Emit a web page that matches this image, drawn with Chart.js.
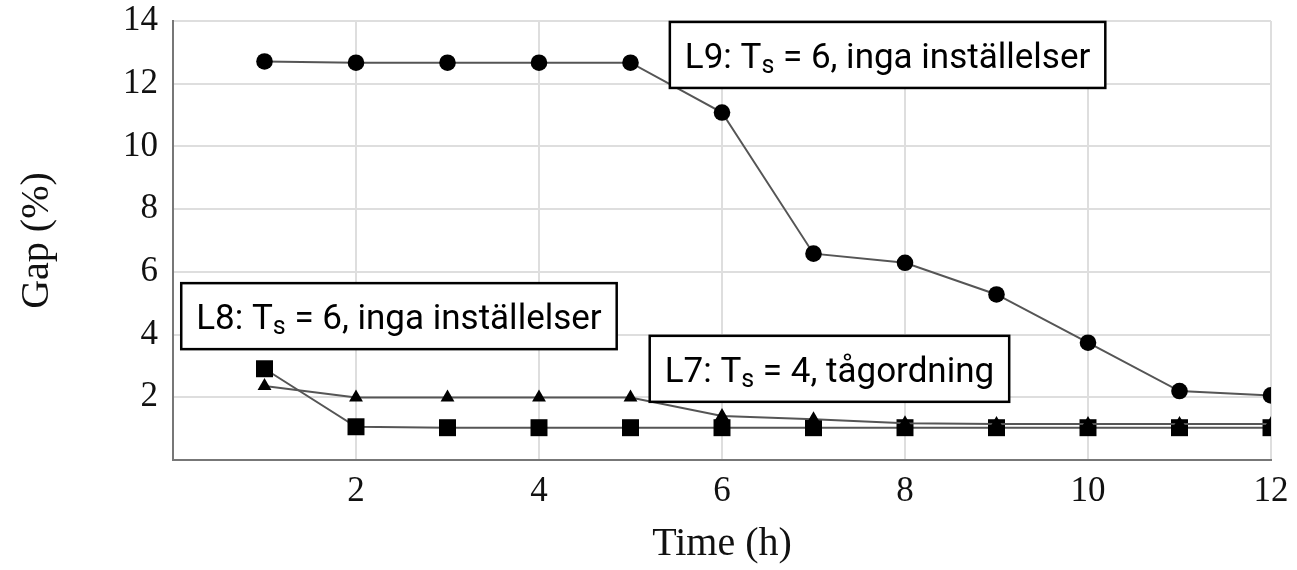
<!DOCTYPE html>
<html>
<head>
<meta charset="utf-8">
<script src="https://cdn.jsdelivr.net/npm/chart.js@4"></script>
<style>
  html, body { margin: 0; padding: 0; background: #fff; }
  #wrap { width: 1297px; height: 570px; }
</style>
</head>
<body>
<div id="wrap"><canvas id="c" width="1297" height="570"></canvas></div>
<script>
// ---- data ----
const hours = [1, 2, 3, 4, 5, 6, 7, 8, 9, 10, 11, 12];
const gapL9 = [12.71, 12.67, 12.67, 12.67, 12.67, 11.08, 6.58, 6.29, 5.28, 3.74, 2.20, 2.06];
const gapL7 = [2.36, 1.99, 1.99, 1.99, 1.99, 1.40, 1.30, 1.17, 1.15, 1.15, 1.15, 1.15];
const gapL8 = [2.91, 1.06, 1.03, 1.03, 1.03, 1.03, 1.03, 1.03, 1.03, 1.03, 1.03, 1.03];
const xTicks = [2, 4, 6, 8, 10, 12];
const yTicks = [2, 4, 6, 8, 10, 12, 14];
const labelL9 = ['L9: T', 's', ' = 6, inga inställelser'];
const labelL8 = ['L8: T', 's', ' = 6, inga inställelser'];
const labelL7 = ['L7: T', 's', ' = 4, tågordning'];

const toPts = (ys) => hours.map((h, i) => ({ x: h, y: ys[i] }));

const LINE = '#555555';
const serif = '"Liberation Serif", "DejaVu Serif", serif';

const boxPlugin = {
  id: 'textBoxes',
  afterDatasetsDraw(chart, args, opts) {
    const ctx = chart.ctx;
    const xs = chart.scales.x, ys = chart.scales.y;
    const fs = opts.fontSize, sfs = opts.subSize;
    opts.boxes.forEach(b => {
      const left = xs.getPixelForValue(b.x);
      const top = ys.getPixelForValue(b.y);
      ctx.save();
      ctx.font = fs + 'px ' + opts.family;
      const w1 = ctx.measureText(b.parts[0]).width;
      const w3 = ctx.measureText(b.parts[2]).width;
      ctx.font = sfs + 'px ' + opts.family;
      const w2 = ctx.measureText(b.parts[1]).width;
      const tw = w1 + w2 + w3;
      const bw = tw + opts.padX * 2;
      const bh = opts.boxH;
      ctx.fillStyle = '#fff';
      ctx.fillRect(left, top, bw, bh);
      ctx.strokeStyle = '#000';
      ctx.lineWidth = 2.5;
      ctx.strokeRect(left, top, bw, bh);
      ctx.fillStyle = '#000';
      ctx.textBaseline = 'alphabetic';
      const base = top + opts.baseline;
      let tx = left + opts.padX;
      ctx.font = fs + 'px ' + opts.family;
      ctx.fillText(b.parts[0], tx, base);
      tx += w1;
      ctx.font = sfs + 'px ' + opts.family;
      ctx.fillText(b.parts[1], tx, base + opts.subDrop);
      tx += w2;
      ctx.font = fs + 'px ' + opts.family;
      ctx.fillText(b.parts[2], tx, base);
      ctx.restore();
    });
  }
};

new Chart(document.getElementById('c'), {
  type: 'line',
  data: {
    datasets: [
      { label: 'L9', data: toPts(gapL9), pointStyle: 'circle', pointRadius: 8.3 },
      { label: 'L7', data: toPts(gapL7), pointStyle: 'triangle', pointRadius: 8 },
      { label: 'L8', data: toPts(gapL8), pointStyle: 'rect', pointRadius: 12 }
    ].map(d => Object.assign(d, {
      borderColor: LINE, borderWidth: 2, tension: 0,
      pointBackgroundColor: '#000', pointBorderColor: '#000', pointBorderWidth: 0,
      pointHoverRadius: d.pointRadius
    }))
  },
  options: {
    responsive: false,
    animation: false,
    events: [],
    layout: { padding: { top: 21, right: 26, left: 0, bottom: 0 } },
    plugins: {
      legend: { display: false },
      tooltip: { enabled: false },
      textBoxes: {
        family: 'Roboto, "Noto Sans", sans-serif',
        fontSize: 35, subSize: 25, subDrop: 5,
        padX: 15, boxH: 66, baseline: 46,
        boxes: [
          { x: 5.43, y: 13.97, parts: labelL9 },
          { x: 0.09, y: 5.64, parts: labelL8 },
          { x: 5.21, y: 3.96, parts: labelL7 }
        ]
      }
    },
    scales: {
      x: {
        type: 'linear', min: 0, max: 12,
        afterFit(s) { s.height = 110; s.paddingLeft = 0; s.paddingRight = 0; },
        afterBuildTicks(s) { s.ticks = [0].concat(xTicks).map(v => ({ value: v })); },
        ticks: {
          callback: v => (xTicks.includes(v) ? String(v) : ''),
          font: { family: serif, size: 35 }, color: '#111', padding: 11, maxRotation: 0
        },
        grid: { color: '#dedede', lineWidth: 2, drawTicks: false },
        border: { color: '#777', width: 2 },
        title: {
          display: true, text: 'Time (h)',
          font: { family: serif, size: 40 }, color: '#111',
          padding: { top: 2, bottom: 2 }
        }
      },
      y: {
        type: 'linear', min: 0, max: 14,
        afterFit(s) { s.width = 173; s.paddingTop = 0; s.paddingBottom = 0; },
        afterBuildTicks(s) { s.ticks = [0].concat(yTicks).map(v => ({ value: v })); },
        ticks: {
          callback: v => (yTicks.includes(v) ? String(v) : ''),
          font: { family: serif, size: 35 }, color: '#111', padding: 15
        },
        grid: { color: '#dedede', lineWidth: 2, drawTicks: false },
        border: { color: '#777', width: 2 },
        title: {
          display: true, text: 'Gap (%)',
          font: { family: serif, size: 40 }, color: '#111',
          padding: { top: 13, bottom: 0 }
        }
      }
    }
  },
  plugins: [boxPlugin]
});
</script>
</body>
</html>
